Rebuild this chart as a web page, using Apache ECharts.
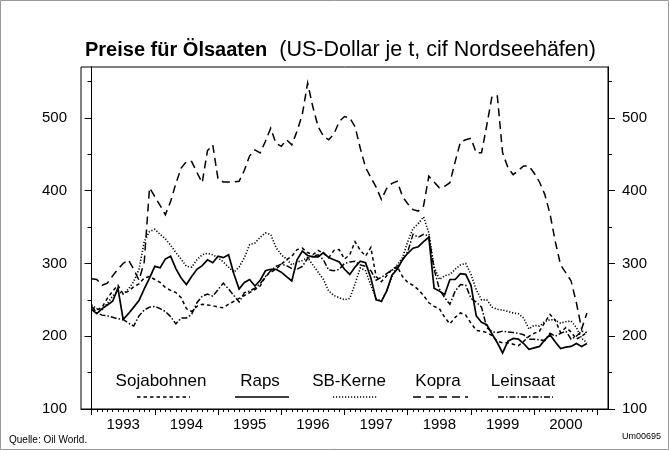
<!DOCTYPE html>
<html>
<head>
<meta charset="utf-8">
<title>Preise für Ölsaaten</title>
<script src="https://cdn.jsdelivr.net/npm/echarts@6/dist/echarts.min.js"></script>
<style>
  html, body { margin: 0; padding: 0; background: #fff; }
  #chart { width: 669px; height: 450px; }
</style>
</head>
<body>
<div id="chart"></div>
<script>
// Monatswerte, Index 0 = Januar 1993 ... 94 = November 2000 (US-Dollar je t)
var yearLabels = ['1993', '1994', '1995', '1996', '1997', '1998', '1999', '2000'];
var yTickLabels = [100, 200, 300, 400, 500];
var yMinorTicks = [150, 250, 350, 450, 550];

var sojabohnen = [240,236,240,252,262,270,258,262,268,272, 280,282,278,274,267,263,260,253,238,234,
  241,244,243,242,240,239,244,248,252,256, 260,264,269,282,288,292,299,305,310,319,
  321,315,312,318,314,308,318,319,306,312, 330,318,310,322,282,275,283,292,296,282,
  274,270,264,256,246,241,238,226,217,226, 232,229,218,208,207,205,201,193,191,191,
  189,187,193,200,204,207,219,230,222,205, 212,206,196,200,205];

var raps = [237,231,238,243,248,266,223,231,240,249, 265,280,296,294,306,310,293,280,271,282,
  292,297,305,301,310,308,312,286,265,274, 278,269,277,290,292,292,288,282,276,305,
  317,311,309,309,315,308,305,302,292,285, 295,303,301,280,250,248,262,284,292,305,
  314,321,323,330,336,266,262,257,278,278, 286,285,270,228,219,216,203,191,177,193,
  197,196,190,182,184,186,195,202,192,183, 185,186,190,186,190];

var sbKerne = [243,238,236,245,255,262,258,265,275,292, 330,344,347,340,334,325,315,306,296,295,
  305,312,314,312,308,302,295,288,295,308, 326,328,336,342,340,322,312,306,298,302,
  304,308,298,288,278,262,256,253,250,252, 272,294,290,270,252,248,262,282,298,308,
  330,348,355,364,342,295,278,283,285,292, 298,300,285,264,250,250,240,237,236,234,
  232,231,225,210,215,214,220,223,222,218, 220,221,212,197,191];

var kopra = [279,278,270,273,283,292,300,305,292,277, 302,404,392,380,367,385,410,431,440,440,
  425,411,455,463,416,412,412,412,413,428, 448,456,452,468,486,465,461,470,463,482,
  505,548,515,488,475,470,478,495,502,500, 488,458,432,418,405,388,403,410,413,392,
  382,374,372,379,420,412,404,406,411,440, 467,470,472,452,452,490,530,530,452,432,
  422,428,434,434,424,412,395,368,330,298, 287,276,246,210,232];

var leinsaat = [241,232,229,228,226,224,223,218,214,228, 236,240,241,238,234,227,217,225,225,230,
  246,255,258,255,264,273,265,256,247,260, 262,266,272,282,290,296,299,297,293,292,
  296,307,310,312,305,291,290,292,300,302, 303,298,296,290,277,281,286,291,294,305,
  316,340,336,340,338,292,265,253,244,262, 271,270,252,247,240,212,206,205,207,206,
  205,204,202,196,196,195,194,204,200,204, 207,196,200,207,205];

var seriesNames = ['Sojabohnen', 'Raps', 'SB-Kerne', 'Kopra', 'Leinsaat'];
var seriesData = [sojabohnen, raps, sbKerne, kopra, leinsaat];

// Linienarten (schwarz-weiss)
var dashes = [[3.5, 3], 'solid', [1.2, 1.8], [8, 5], [6, 2, 1.5, 2]];
var widths = [1.5, 1.7, 1.6, 1.5, 1.5];

var FONT = '"Liberation Sans", Arial, Helvetica, sans-serif';

var yearTicks = [];
var yearLabelPos = [];
for (var k = 0; k <= yearLabels.length; k++) yearTicks.push(12 * k);
for (var k = 0; k < yearLabels.length; k++) yearLabelPos.push(12 * k + 6);
var monthTicks = [];
for (var m = 0; m <= 12 * yearLabels.length; m++) monthTicks.push(m);

function pairs(arr) {
  return arr.map(function (v, i) { return [i, v]; });
}

var chart = echarts.init(document.getElementById('chart'), null, { renderer: 'canvas' });

var series = [];
for (var s = 0; s < seriesNames.length; s++) {
  series.push({
    name: seriesNames[s],
    type: 'line',
    xAxisIndex: 0,
    yAxisIndex: 0,
    data: pairs(seriesData[s]),
    showSymbol: false,
    symbol: 'none',
    clip: true,
    lineStyle: { color: '#000', width: widths[s], type: dashes[s], cap: 'butt', join: 'miter' },
    z: 3
  });
}

function yAxisDef(pos, values, len, showLabel) {
  return {
    type: 'value',
    position: pos,
    min: 100,
    max: 570,
    axisLine: { show: true, lineStyle: { color: '#000', width: 1 } },
    splitLine: { show: false },
    axisTick: { show: true, inside: false, length: len, customValues: values,
      lineStyle: { color: '#000', width: 1 } },
    axisLabel: { show: showLabel, customValues: values, margin: 14,
      color: '#000', fontSize: 15, fontFamily: FONT }
  };
}

// Legende: Text mit Linienmuster darunter
var legendCenters = [161, 260, 349, 438, 523];
var legendKeys = [[137, 190], [235, 289], [333, 377], [413, 468], [498, 553]];
var graphics = [];
for (var s = 0; s < seriesNames.length; s++) {
  graphics.push({
    type: 'text', x: legendCenters[s], y: 381, silent: true,
    style: { text: seriesNames[s], fill: '#000', font: '17px ' + FONT,
      textAlign: 'center', textVerticalAlign: 'middle' }
  });
  graphics.push({
    type: 'line', silent: true,
    shape: { x1: legendKeys[s][0], y1: 397, x2: legendKeys[s][1], y2: 397 },
    style: { stroke: '#000', lineWidth: widths[s],
      lineDash: dashes[s] === 'solid' ? null : dashes[s] }
  });
}
graphics.push({
  type: 'text', left: 9, top: 435, silent: true,
  style: { text: 'Quelle: Oil World.', fill: '#000', font: '10px ' + FONT }
});
graphics.push({
  type: 'text', left: 622, top: 432, silent: true,
  style: { text: 'Um00695', fill: '#000', font: '9px ' + FONT }
});
graphics.push({
  type: 'rect', silent: true, z: -1,
  shape: { x: 0.5, y: 0.5, width: 668, height: 449 },
  style: { fill: null, stroke: '#999', lineWidth: 1 }
});

var option = {
  animation: false,
  backgroundColor: '#fff',
  title: {
    left: 80,
    top: 32,
    text: '{b|Preise für Ölsaaten}{n|  (US-Dollar je t, cif Nordseehäfen)}',
    textStyle: {
      fontWeight: 'normal',
      rich: {
        b: { fontSize: 20, fontWeight: 'bold', fontFamily: FONT, color: '#000', lineHeight: 26 },
        n: { fontSize: 21.5, fontWeight: 'normal', fontFamily: FONT, color: '#000', lineHeight: 26 }
      }
    }
  },
  grid: {
    left: 81, right: 61, top: 67, bottom: 41,
    show: true, borderColor: '#000', borderWidth: 1, backgroundColor: 'transparent'
  },
  xAxis: [
    {
      type: 'value', min: -2, max: 98,
      axisLine: { show: true, lineStyle: { color: '#000', width: 1 } },
      splitLine: { show: false },
      axisTick: { show: true, inside: false, length: 6, customValues: yearTicks,
        lineStyle: { color: '#000', width: 1 } },
      axisLabel: { show: true, customValues: yearLabelPos, margin: 8,
        color: '#000', fontSize: 15, fontFamily: FONT,
        formatter: function (v) { return yearLabels[Math.round((v - 6) / 12)]; } }
    },
    {
      type: 'value', min: -2, max: 98, position: 'bottom',
      axisLine: { show: false },
      splitLine: { show: false },
      axisTick: { show: true, inside: false, length: 3, customValues: monthTicks,
        lineStyle: { color: '#000', width: 1 } },
      axisLabel: { show: false }
    }
  ],
  yAxis: [
    yAxisDef('left', yTickLabels, 7, true),
    yAxisDef('left', yMinorTicks, 4, false),
    yAxisDef('right', yTickLabels, 7, true),
    yAxisDef('right', yMinorTicks, 4, false)
  ],
  series: series,
  graphic: graphics
};

chart.setOption(option);
</script>
</body>
</html>
